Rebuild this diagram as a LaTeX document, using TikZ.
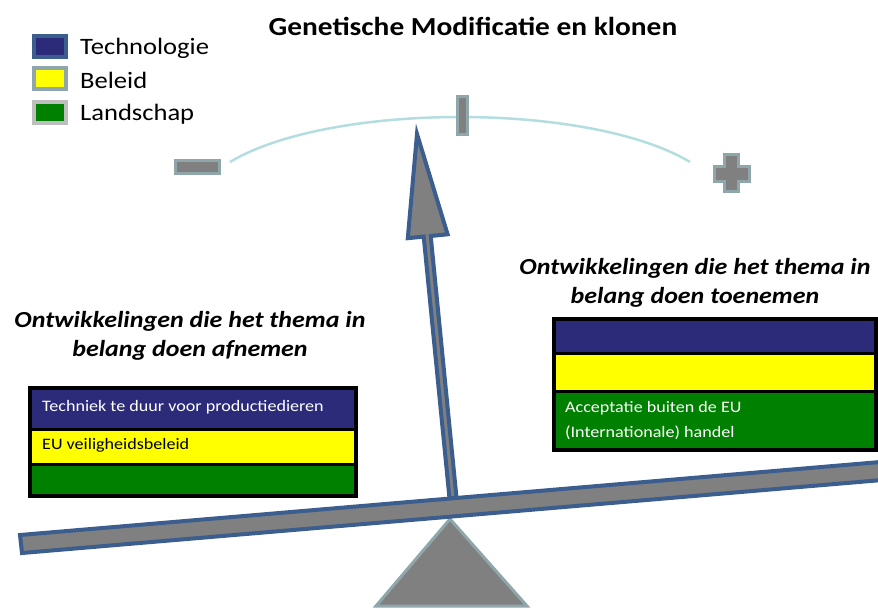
\documentclass[tikz,border=0pt]{standalone}
\usepackage{fontspec}
\setmainfont{Carlito}[FakeStretch=1.13]
\usetikzlibrary{positioning}
\definecolor{navy}{RGB}{43,43,122}
\definecolor{geel}{RGB}{255,255,0}
\definecolor{groen}{RGB}{0,128,0}
\definecolor{blauwrand}{RGB}{59,94,143}
\definecolor{grijsrand}{RGB}{143,166,170}
\definecolor{lichtgrijs}{RGB}{190,190,190}
\definecolor{grijs}{RGB}{128,128,128}
\definecolor{lichtblauw}{RGB}{180,221,224}
\begin{document}
\begin{tikzpicture}[x=1pt,y=-1pt,
		legenda/.style={draw,line width=4pt,minimum width=32pt,minimum height=21pt,inner sep=0pt},
		legtekst/.style={right=12pt of #1,yshift=-2pt,inner sep=0pt,font=\fontsize{23.5}{27}\selectfont},
		kop/.style={align=center,inner sep=0pt,font=\fontsize{23}{29}\selectfont\bfseries\itshape},
		vak/.style={draw=black,line width=3pt},
		vaktekst/.style={anchor=west,align=left,inner sep=0pt,font=\fontsize{16}{25}\selectfont},
		teken/.style={draw=grijsrand,fill=grijs,line width=3pt}]
		\useasboundingbox (0,0) rectangle (878,608);
		% titel en legenda
		\node[inner sep=0pt,font=\fontsize{26}{30}\selectfont\bfseries] (titel) at (473,26) {Genetische Modificatie en klonen};
		\node[legenda,draw=blauwrand,fill=navy] (tech) at (50,46.5) {};
		\node[legenda,draw=grijsrand,fill=geel] (beleid) at (50,78) {};
		\node[legenda,draw=lichtgrijs,fill=groen] (land) at (50,112) {};
		\node[legtekst=tech] (techtekst) {Technologie};
		\node[legtekst=beleid] (beleidtekst) {Beleid};
		\node[legtekst=land] (landtekst) {Landschap};
		% schaal met min, nul en plus
		\draw[lichtblauw,line width=2.5pt] (230,162) .. controls (330,102) and (590,102) .. (690,162);
		\draw[teken] (175,160) rectangle (219,173);
		\draw[teken] (457,96) rectangle (467,134);
		\draw[teken] (724.5,154.5) -- (738.5,154.5) -- (738.5,166.5) -- (749.5,166.5) -- (749.5,181.5)
			-- (738.5,181.5) -- (738.5,191.5) -- (724.5,191.5) -- (724.5,181.5) -- (714.5,181.5)
			-- (714.5,166.5) -- (724.5,166.5) -- cycle;
		% wijzer
		\draw[blauwrand,fill=grijs,line width=4pt,line join=miter] (456.5,497.7) -- (430.7,236) -- (447.6,234.3)
			-- (417,134) -- (407.8,238.2) -- (423.7,236.6) -- (449.5,498.3) -- cycle;
		% steunpunt en balk
		\draw[grijsrand,fill=grijs,line width=3pt] (450,519) -- (527,606) -- (376,606) -- cycle;
		\draw[blauwrand,fill=grijs,line width=4pt] (20,535) -- (892,461) -- (894,479) -- (22,553) -- cycle;
		% links: afnemen
		\node[kop] (linkskop) at (190,336) {Ontwikkelingen die het thema in\\belang doen afnemen};
		\fill[navy] (30,388) rectangle (356,429);
		\fill[geel] (30,429) rectangle (356,464);
		\fill[groen] (30,464) rectangle (356,496);
		\draw[vak] (30,429) -- (356,429) (30,464) -- (356,464);
		\draw[black,line width=4pt] (30,388) rectangle (356,496);
		\node[vaktekst,text=white] (techlinks) at (42,407) {Techniek te duur voor productiedieren};
		\node[vaktekst] (beleidlinks) at (42,445) {EU veiligheidsbeleid};
		% rechts: toenemen
		\node[kop] (rechtskop) at (695,283) {Ontwikkelingen die het thema in\\belang doen toenemen};
		\fill[navy] (554,319) rectangle (884,353);
		\fill[geel] (554,353) rectangle (884,391);
		\fill[groen] (554,391) rectangle (884,450);
		\draw[vak] (554,353) -- (884,353) (554,391) -- (884,391);
		\draw[black,line width=4pt] (554,319) rectangle (876,450);
		\node[vaktekst,text=white] (landrechts) at (565,420.5) {Acceptatie buiten de EU\\(Internationale) handel};
	\end{tikzpicture}
\end{document}
